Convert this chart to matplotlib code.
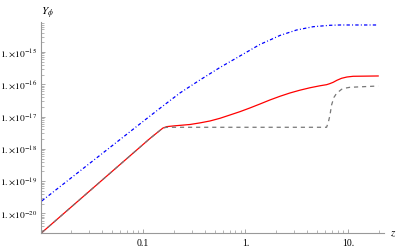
import matplotlib
matplotlib.use("Agg")
import matplotlib.pyplot as plt
from matplotlib.ticker import FixedLocator, NullFormatter, FixedFormatter

plt.rcParams['font.family'] = ['Liberation Serif', 'DejaVu Serif']
plt.rcParams['mathtext.fontset'] = 'stix'
plt.rcParams['lines.scale_dashes'] = False

# Data
z_red = [0.01038, 0.1175, 0.1406, 0.1573, 0.1720, 0.2058,
         0.2881, 0.3605, 0.4511, 0.5646, 0.7065, 0.8841, 1.106, 1.384, 1.732,
         2.168, 2.713, 3.395, 4.246, 5.313, 6.176, 6.650, 7.159, 7.78, 8.645,
         9.734, 11.21, 19.64]
y_red = [2.55e-21, 2.10e-18, 3.33e-18, 4.43e-18, 4.90e-18,
         5.19e-18, 5.69e-18, 6.38e-18, 7.31e-18, 8.85e-18, 1.12e-17, 1.42e-17,
         1.85e-17, 2.45e-17, 3.27e-17, 4.25e-17, 5.38e-17, 6.57e-17, 7.80e-17,
         8.99e-17, 9.73e-17, 1.05e-16, 1.153e-16, 1.33e-16, 1.535e-16,
         1.68e-16, 1.77e-16, 1.81e-16]

z_gray = [0.01038, 0.1175, 0.1406, 0.1573, 0.1720, 6.176,
          6.430, 6.650, 6.907, 7.272, 7.727, 8.645, 9.519, 10.41, 19.64]
y_gray = [2.55e-21, 2.10e-18, 3.33e-18, 4.43e-18, 4.67e-18,
          4.67e-18, 6.81e-18, 1.08e-17, 2.29e-17, 3.90e-17, 5.26e-17, 7.00e-17,
          7.67e-17, 8.07e-17, 8.85e-17]

z_blue = [0.01038, 0.1050, 0.1471, 0.2302, 0.3605, 0.5646, 0.8841, 1.384,
          1.732, 2.168, 3.152, 4.573, 6.650, 8.321, 19.64]
y_blue = [2.44e-20, 7.85e-18, 1.81e-17, 5.38e-17, 1.36e-16, 3.31e-16, 7.52e-16,
          1.71e-15, 2.35e-15, 3.25e-15, 4.80e-15, 6.07e-15, 6.71e-15, 6.86e-15,
          6.86e-15]

x_major = [0.1, 1, 10]
x_major_labels = ["0.1", "1.", "10."]
y_major = [1e-20, 1e-19, 1e-18, 1e-17, 1e-16, 1e-15]
y_major_labels = [r"$1.{\times}10^{-20}$", r"$1.{\times}10^{-19}$", r"$1.{\times}10^{-18}$",
                  r"$1.{\times}10^{-17}$", r"$1.{\times}10^{-16}$", r"$1.{\times}10^{-15}$"]

fig = plt.figure(figsize=(3.99, 2.48), dpi=100)
ax = fig.add_axes([0.104, 0.0605, 0.858, 0.852])

ax.plot(z_red, y_red, color='red', lw=0.9, solid_joinstyle='round')
ax.plot(z_gray, y_gray, color='#777777', lw=0.9, linestyle=(0, (3.0, 2.8)))
ax.plot(z_blue, y_blue, color='blue', lw=0.9, linestyle=(0, (2.4, 1.6, 0.7, 1.6)))

ax.set_xscale('log')
ax.set_yscale('log')
ax.set_xlim(0.01032, 22.3)
ax.set_ylim(10**-20.604, 10**-14.062)

for s in ['top', 'right']:
    ax.spines[s].set_visible(False)
for s in ['left', 'bottom']:
    ax.spines[s].set_color('#999999')
    ax.spines[s].set_linewidth(0.8)

ax.xaxis.set_major_locator(FixedLocator(x_major))
ax.xaxis.set_major_formatter(FixedFormatter(x_major_labels))
xminor = [m * d for d in [0.01, 0.1, 1, 10] for m in range(2, 10) if m * d < 22]
ax.xaxis.set_minor_locator(FixedLocator(xminor))
ax.xaxis.set_minor_formatter(NullFormatter())

ax.yaxis.set_major_locator(FixedLocator(y_major))
ax.yaxis.set_major_formatter(FixedFormatter(y_major_labels))
yminor = [m * 10.0**e for e in range(-21, -14) for m in range(2, 10)]
ax.yaxis.set_minor_locator(FixedLocator(yminor))
ax.yaxis.set_minor_formatter(NullFormatter())

ax.tick_params(which='major', direction='in', length=3.0, width=0.6, color='#999999',
               pad=3)
ax.tick_params(axis='y', which='major', labelsize=6.8, pad=3.2)
ax.tick_params(axis='x', which='major', labelsize=7, pad=4)
ax.tick_params(which='minor', direction='in', length=2.0, width=0.5, color='#999999')

fig.text(0.104, 0.945, r"$Y_\phi$", fontsize=8, ha='left', va='center')
fig.text(0.993, 0.055, r"$z$", fontsize=8, ha='right', va='center')

fig.savefig("out.png", dpi=100)
